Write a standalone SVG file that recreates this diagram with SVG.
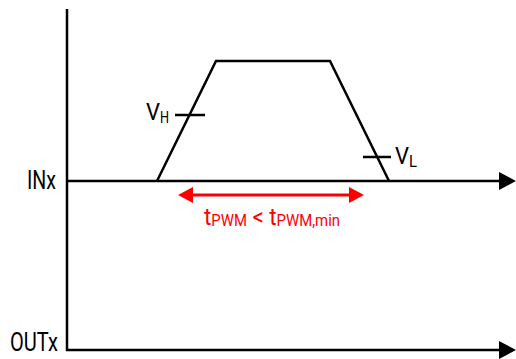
<svg xmlns="http://www.w3.org/2000/svg" width="516" height="359" viewBox="0 0 516 359">
<style>
.ax{stroke:#000;stroke-width:2.5;fill:none}
.sig{stroke:#000;stroke-width:2.5;fill:none}
.t{font-family:"Roboto","Liberation Sans",sans-serif;fill:#000}
.r{fill:#ff0000}
</style>
<g id="connectors">
<line class="ax" x1="67" y1="9" x2="67" y2="351"/>
<line class="ax" x1="66" y1="181" x2="500" y2="181"/>
<path d="M499,172 L516,181 L499,190 Z" fill="#000"/>
<line class="ax" x1="66" y1="350" x2="500" y2="350"/>
<path d="M499,341 L516,350 L499,359 Z" fill="#000"/>
</g>
<g id="signal">
<path class="sig" d="M157,181 L216,61 L330,61 L389,181"/>
<line class="sig" x1="175" y1="115" x2="205" y2="115"/>
<line class="sig" x1="363" y1="157" x2="391" y2="157"/>
</g>
<g id="labels">
<text class="t" x="27" y="189" font-size="25" textLength="29" lengthAdjust="spacingAndGlyphs">INx</text>
<text class="t" x="10" y="351" font-size="25" textLength="48" lengthAdjust="spacingAndGlyphs">OUTx</text>
<text class="t" x="146" y="120" font-size="24" textLength="14" lengthAdjust="spacingAndGlyphs">V</text>
<text class="t" x="160" y="123" font-size="17" textLength="9" lengthAdjust="spacingAndGlyphs">H</text>
<text class="t" x="395" y="164" font-size="24" textLength="14" lengthAdjust="spacingAndGlyphs">V</text>
<text class="t" x="409" y="167" font-size="17" textLength="8" lengthAdjust="spacingAndGlyphs">L</text>
</g>
<g id="tpwm">
<line x1="190" y1="195" x2="352" y2="195" stroke="#ff0000" stroke-width="3"/>
<path d="M178,195 L193,187 L193,203 Z" fill="#ff0000"/>
<path d="M364,195 L349,187 L349,203 Z" fill="#ff0000"/>
<text class="t r" x="204" y="225" font-size="24" textLength="136" lengthAdjust="spacingAndGlyphs"><tspan>t</tspan><tspan font-size="16" dy="1">PWM</tspan><tspan dy="-1"> &lt; t</tspan><tspan font-size="16" dy="1">PWM,min</tspan></text>
</g>
</svg>
